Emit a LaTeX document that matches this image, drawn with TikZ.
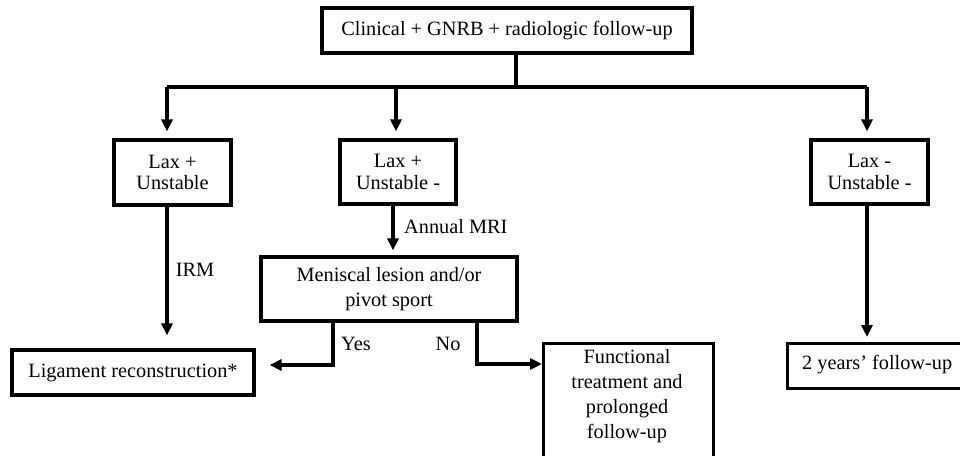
\documentclass[tikz,border=0pt]{standalone}
\usepackage{fontspec}
\setmainfont{Liberation Serif}
\usetikzlibrary{arrows.meta,calc}
\begin{document}
\begin{tikzpicture}[x=1pt,y=-1pt,
  every node/.style={font=\fontsize{20.3}{25}\selectfont},
  boxnode/.style={draw,line width=3.2pt,align=center,inner sep=0pt},
  tight/.style={font=\fontsize{20.3}{21.7}\selectfont},
  lbl/.style={inner sep=0pt},
  arr/.style={line width=3.2pt,-{Triangle[length=12pt,width=11pt]}},
  ln/.style={line width=3.2pt}]
\useasboundingbox (0,0) rectangle (960,455);
% boxes
\node[boxnode,minimum width=370pt,minimum height=45pt] (top) at (507,30.5) {Clinical + GNRB + radiologic follow-up};
\node[boxnode,tight,minimum width=117pt,minimum height=65pt] (l1) at (172.5,172.5) {Lax +\\Unstable};
\node[boxnode,tight,minimum width=116pt,minimum height=64pt] (l2) at (398,172) {Lax +\\Unstable -};
\node[boxnode,tight,minimum width=117pt,minimum height=64pt] (l3) at (869.5,172) {Lax -\\Unstable -};
\node[boxnode,minimum width=256pt,minimum height=64pt] (men) at (389,289) {Meniscal lesion and/or\\pivot sport};
\node[boxnode,minimum width=242pt,minimum height=45pt] (lig) at (133,372.5) {Ligament reconstruction*};
\node[boxnode,minimum width=170pt,minimum height=118pt,anchor=north west] (fun) at (542,342) {};
\node[lbl,align=center,anchor=north] (funtxt) at (627,349) {Functional\\treatment and\\prolonged\\follow-up};
\node[boxnode,minimum width=180pt,minimum height=45pt,anchor=north west] (two) at (786,342) {};
\node[lbl,anchor=west] (twotxt) at (802,364.5) {2 years’ follow-up};
% bus
\coordinate (stem) at (516,87);
\coordinate (b1) at (167,87);
\coordinate (b2) at (396,87);
\coordinate (b3) at (867,87);
\draw[ln] (top.south -| stem) -- (stem);
\draw[ln] (b1) -- (b3);
\draw[arr] (b1) -- ($(b1 |- l1.north)+(0,-7)$);
\draw[arr] (b2) -- ($(b2 |- l2.north)+(0,-7)$);
\draw[arr] (b3) -- ($(b3 |- l3.north)+(0,-7)$);
% IRM
\coordinate (c1) at (167,0);
\draw[arr] (c1 |- l1.south) -- ($(c1 |- lig.north)+(0,-13)$);
\node[lbl] (irm) at (195,270) {IRM};
% Annual MRI
\coordinate (c2) at (393,0);
\draw[arr] (c2 |- l2.south) -- ($(c2 |- men.north)+(0,-5)$);
\node[lbl,anchor=west] (mri) at (404,227) {Annual MRI};
% Yes / No
\coordinate (cy) at (333,365);
\coordinate (cn) at (477,364);
\draw[arr] (cy |- men.south) -- (cy) -- ($(cy -| lig.east)+(14,0)$);
\draw[arr] (cn |- men.south) -- (cn) -- (cn -| fun.west);
\node[lbl] (yes) at (356,344) {Yes};
\node[lbl] (no) at (448,344) {No};
% 2 years
\coordinate (c3) at (867,0);
\draw[arr] (c3 |- l3.south) -- ($(c3 |- two.north)+(0,-5)$);
\end{tikzpicture}
\end{document}
